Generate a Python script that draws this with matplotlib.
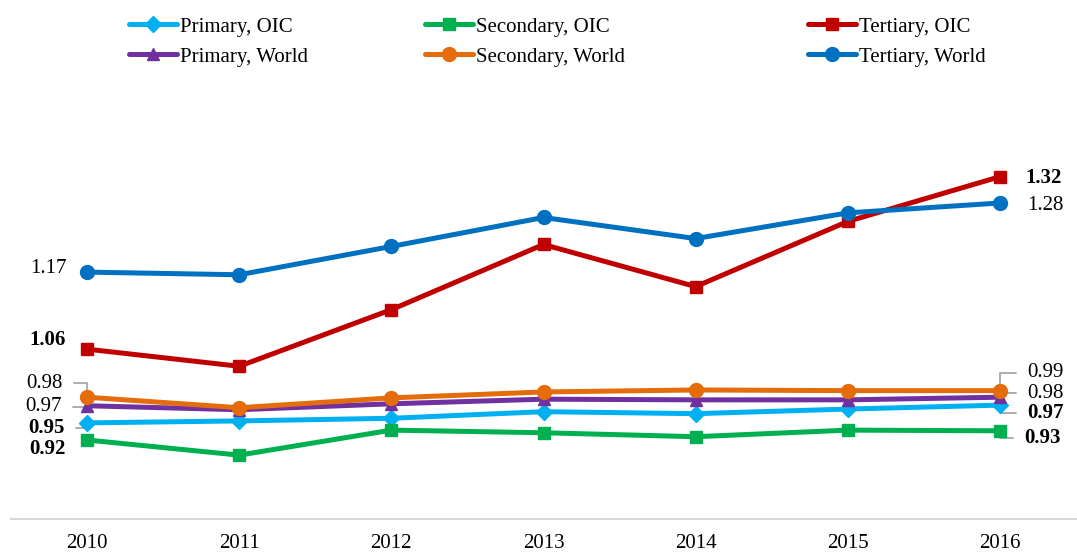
import matplotlib.pyplot as plt

plt.rcParams['font.family'] = ['Liberation Serif', 'DejaVu Serif']

years = ['2010', '2011', '2012', '2013', '2014', '2015', '2016']

# Gender parity index series
primary_oic = [0.946, 0.949, 0.953, 0.963, 0.960, 0.967, 0.973]
secondary_oic = [0.920, 0.897, 0.935, 0.931, 0.925, 0.935, 0.934]
tertiary_oic = [1.058, 1.032, 1.118, 1.217, 1.153, 1.252, 1.320]
primary_world = [0.972, 0.966, 0.975, 0.982, 0.981, 0.981, 0.985]
secondary_world = [0.985, 0.969, 0.984, 0.993, 0.996, 0.995, 0.995]
tertiary_world = [1.175, 1.171, 1.214, 1.258, 1.226, 1.265, 1.280]

series = [
    ('Primary, OIC', primary_oic, '#00B0F0', 'D', 8),
    ('Secondary, OIC', secondary_oic, '#00B050', 's', 9),
    ('Tertiary, OIC', tertiary_oic, '#C00000', 's', 9),
    ('Primary, World', primary_world, '#7030A0', '^', 9),
    ('Secondary, World', secondary_world, '#E46C0A', 'o', 10),
    ('Tertiary, World', tertiary_world, '#0070C0', 'o', 10),
]

fig = plt.figure(figsize=(10.77, 5.53), dpi=100)
ax = fig.add_axes([11 / 1077, 34 / 553, 1065 / 1077, 395 / 553])

x = list(range(len(years)))
handles = []
for name, vals, color, marker, ms in series:
    h, = ax.plot(x, vals, color=color, lw=3.6, marker=marker, ms=ms,
                 label=name, solid_capstyle='round', zorder=3)
    handles.append(h)

ax.set_xlim(-0.5, 6.5)
ax.set_ylim(0.80, 1.40)
ax.set_yticks([])
ax.set_xticks(x)
ax.set_xticklabels(years, fontsize=15)
ax.tick_params(axis='x', length=0, pad=11)
for s in ['top', 'right', 'left']:
    ax.spines[s].set_visible(False)
ax.spines['bottom'].set_color('#D9D9D9')
ax.spines['bottom'].set_linewidth(1.5)

# data labels: (series index, point index, text, bold, dx, dy, leader)
lead = '#A6A6A6'
labels = [
    (5, 0, '1.17', False, -20, 4, False),
    (2, 0, '1.06', True, -21, 9, False),
    (4, 0, '0.98', False, -24, 14, True),
    (3, 0, '0.97', False, -25, -1, True),
    (0, 0, '0.95', True, -22, -5, True),
    (1, 0, '0.92', True, -21, -9, False),
    (2, 6, '1.32', True, 25, -1, False),
    (5, 6, '1.28', False, 27, -2, False),
    (4, 6, '0.99', False, 27, 18, True),
    (3, 6, '0.98', False, 27, 4, True),
    (0, 6, '0.97', True, 27, -8, True),
    (1, 6, '0.93', True, 24, -7, True),
]
for si, pi, txt, bold, dx, dy, leader in labels:
    vals = series[si][1]
    ha = 'right' if dx < 0 else 'left'
    kw = {}
    if leader:
        kw['arrowprops'] = dict(arrowstyle='-', color=lead, lw=1.3,
                                shrinkA=6, shrinkB=0,
                                relpos=(1, 0.5) if dx < 0 else (0, 0.5),
                                connectionstyle='angle,angleA=0,angleB=90,rad=0')
    ax.annotate(txt, xy=(pi, vals[pi]), xytext=(dx, dy), textcoords='offset pixels',
                ha=ha, va='center', fontsize=15,
                fontweight='bold' if bold else 'normal', zorder=1, **kw)

# legend: three columns placed separately
col_x = [129 / 1077, 425 / 1077, 808 / 1077]
for i in range(3):
    fig.legend([handles[i], handles[i + 3]], [series[i][0], series[i + 3][0]],
               loc='upper left', bbox_to_anchor=(col_x[i], 1 - 17 / 553),
               frameon=False, fontsize=15, handlelength=2.3, handletextpad=0.15,
               borderpad=0, borderaxespad=0, labelspacing=0.5)

fig.savefig('out.png', dpi=100)
